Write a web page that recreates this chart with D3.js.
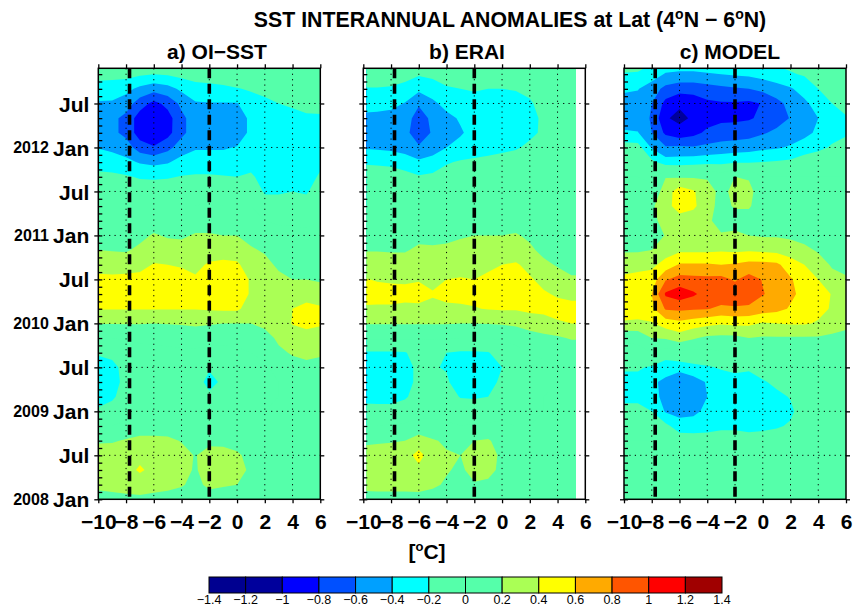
<!DOCTYPE html>
<html>
<head>
<meta charset="utf-8">
<script src="https://cdn.jsdelivr.net/npm/d3@7"></script>
<style>
  body { margin: 0; background: #fff; }
  svg { display: block; font-family: "Liberation Sans", Arial, Helvetica, sans-serif; }
</style>
</head>
<body>
<svg id="chart" width="858" height="607"></svg>
<script>
// ---- grid: one column per longitude, rows are months since Jan 2008 (latest first)
const gridLons = d3.range(-10, 7, 1);
const gridMonths = d3.range(60, -1, -2);

// ---- axes
const lonTicks = [-10, -8, -6, -4, -2, 0, 2, 4, 6];
const monthTicks = [0, 6, 12, 18, 24, 30, 36, 42, 48, 54];
const monthNames = ["Jan", "Jul"];
const yearLabels = [2008, 2009, 2010, 2011, 2012];
const markLons = [-7.75, -2];

// ---- colour scale
const levels = [-1.4, -1.2, -1, -0.8, -0.6, -0.4, -0.2, 0, 0.2, 0.4, 0.6, 0.8, 1, 1.2, 1.4];
const bandColors = ["#000090", "#00009c", "#0000ff", "#0050ff", "#00a0ff", "#00ffff", "#55ffaa",
                    "#55ffaa", "#aaff55", "#ffff00", "#ffaa00", "#ff5500", "#ff0000", "#a00000"];

const panelTitles = ["a) OI\u2212SST", "b) ERAI", "c) MODEL"];
const dataLonRange = [[-10, 6], [-9.78, 5.33], [-10, 6]];

// ---- SST anomalies [°C], one series per longitude (-10 ... 6), months 60 -> 0
const oiSst = [
  [-0.05,-0.12,-0.3,-0.42,-0.5,-0.5,-0.41,-0.28,-0.15,-0.05,0,0.05,0.12,0.2,0.32,0.45,0.5,0.41,0.21,0,-0.18,-0.28,-0.3,-0.25,-0.18,0,0.18,0.28,0.3,0.26,0.1],
  [-0.05,-0.12,-0.32,-0.42,-0.55,-0.55,-0.45,-0.3,-0.16,-0.05,0,0.05,0.12,0.19,0.32,0.44,0.5,0.41,0.21,0,-0.16,-0.24,-0.25,-0.22,-0.15,0,0.18,0.3,0.32,0.28,0.12],
  [-0.05,-0.13,-0.34,-0.5,-0.66,-0.66,-0.5,-0.35,-0.18,-0.06,0,0.05,0.12,0.18,0.32,0.45,0.5,0.41,0.21,0.02,-0.1,-0.15,-0.16,-0.14,-0.08,0.05,0.22,0.32,0.35,0.3,0.14],
  [-0.06,-0.17,-0.45,-0.7,-0.9,-0.9,-0.7,-0.42,-0.22,-0.08,0,0.06,0.15,0.24,0.35,0.45,0.5,0.41,0.21,0.03,-0.05,-0.08,-0.08,-0.06,0,0.1,0.25,0.36,0.42,0.32,0.15],
  [-0.08,-0.2,-0.52,-0.86,-0.98,-0.98,-0.78,-0.45,-0.23,-0.08,0,0.1,0.22,0.32,0.41,0.5,0.52,0.41,0.2,0.04,-0.05,-0.08,-0.08,-0.05,0,0.1,0.25,0.35,0.36,0.3,0.12],
  [-0.07,-0.18,-0.47,-0.74,-0.88,-0.87,-0.66,-0.42,-0.22,-0.07,0,0.08,0.18,0.28,0.4,0.5,0.52,0.41,0.21,0.04,-0.03,-0.06,-0.06,-0.04,0,0.1,0.24,0.32,0.33,0.27,0.1],
  [-0.05,-0.14,-0.36,-0.55,-0.65,-0.65,-0.5,-0.33,-0.19,-0.06,0,0.08,0.17,0.28,0.38,0.48,0.5,0.41,0.22,0.04,-0.02,-0.05,-0.05,-0.03,0,0.08,0.19,0.26,0.26,0.22,0.1],
  [-0.04,-0.11,-0.28,-0.42,-0.5,-0.5,-0.42,-0.3,-0.18,-0.05,0,0.1,0.22,0.3,0.36,0.42,0.48,0.41,0.24,0.05,-0.02,-0.05,-0.06,-0.03,0,0.05,0.14,0.19,0.18,0.14,0.06],
  [-0.04,-0.1,-0.26,-0.41,-0.5,-0.5,-0.42,-0.3,-0.18,-0.05,0.02,0.1,0.22,0.32,0.42,0.5,0.52,0.42,0.22,0.05,-0.05,-0.16,-0.3,-0.13,-0.02,0.05,0.15,0.28,0.3,0.25,0.1],
  [-0.03,-0.09,-0.24,-0.41,-0.48,-0.48,-0.42,-0.3,-0.19,-0.08,0,0.08,0.2,0.3,0.45,0.52,0.52,0.43,0.2,0.05,-0.05,-0.1,-0.14,-0.08,-0.02,0.05,0.15,0.27,0.29,0.22,0.1],
  [-0.03,-0.08,-0.21,-0.41,-0.5,-0.5,-0.39,-0.28,-0.2,-0.1,0,0.08,0.2,0.3,0.43,0.5,0.5,0.43,0.2,0.05,-0.03,-0.06,-0.08,-0.05,0,0.05,0.12,0.23,0.26,0.2,0.08],
  [-0.02,-0.07,-0.18,-0.28,-0.36,-0.36,-0.32,-0.25,-0.18,-0.08,0,0.06,0.15,0.22,0.3,0.38,0.38,0.32,0.2,0.08,0,-0.05,-0.06,-0.04,0,0.04,0.08,0.14,0.17,0.13,0.05],
  [-0.02,-0.06,-0.15,-0.24,-0.3,-0.3,-0.3,-0.28,-0.25,-0.22,-0.12,0,0.1,0.18,0.25,0.3,0.32,0.3,0.25,0.12,0.03,-0.02,-0.03,-0.02,0,0.02,0.04,0.06,0.06,0.04,0.02],
  [-0.02,-0.05,-0.12,-0.2,-0.26,-0.28,-0.28,-0.28,-0.26,-0.22,-0.12,-0.02,0.05,0.1,0.17,0.24,0.3,0.33,0.3,0.24,0.16,0.05,0,0,0,0.01,0.02,0.03,0.03,0.02,0.01],
  [-0.02,-0.04,-0.1,-0.18,-0.24,-0.26,-0.27,-0.27,-0.25,-0.2,-0.1,-0.02,0.04,0.08,0.14,0.2,0.3,0.4,0.41,0.3,0.22,0.12,0.04,0,0,0,0,0,0,0,0],
  [-0.02,-0.04,-0.09,-0.16,-0.22,-0.26,-0.27,-0.27,-0.26,-0.22,-0.12,-0.03,0.03,0.07,0.13,0.2,0.32,0.46,0.44,0.34,0.24,0.16,0.06,0.01,0,0,0,0,0,0,0],
  [-0.02,-0.04,-0.09,-0.15,-0.22,-0.25,-0.25,-0.23,-0.18,-0.1,-0.05,0,0.03,0.07,0.12,0.18,0.28,0.43,0.42,0.32,0.22,0.15,0.05,0,0,0,0,0,0,0,0]
];

const erai = [
  [-0.04,-0.1,-0.21,-0.32,-0.45,-0.48,-0.42,-0.22,-0.1,-0.04,0,0.05,0.1,0.19,0.3,0.41,0.46,0.38,0.21,0.02,-0.22,-0.28,-0.3,-0.25,-0.14,0,0.16,0.28,0.3,0.26,0.12],
  [-0.04,-0.1,-0.21,-0.32,-0.46,-0.5,-0.43,-0.23,-0.1,-0.04,0,0.05,0.1,0.19,0.3,0.39,0.45,0.38,0.21,0.02,-0.22,-0.3,-0.32,-0.26,-0.14,0,0.17,0.3,0.32,0.27,0.12],
  [-0.04,-0.11,-0.22,-0.34,-0.48,-0.52,-0.45,-0.24,-0.11,-0.04,0,0.05,0.1,0.18,0.3,0.38,0.45,0.38,0.21,0.02,-0.22,-0.3,-0.3,-0.26,-0.14,0.02,0.18,0.32,0.33,0.27,0.12],
  [-0.05,-0.13,-0.26,-0.41,-0.52,-0.55,-0.48,-0.3,-0.13,-0.05,0,0.05,0.1,0.18,0.3,0.38,0.44,0.37,0.21,0.02,-0.21,-0.26,-0.26,-0.22,-0.12,0.03,0.2,0.33,0.34,0.27,0.12],
  [-0.08,-0.18,-0.35,-0.58,-0.68,-0.7,-0.58,-0.36,-0.18,-0.07,0,0.06,0.14,0.24,0.32,0.39,0.45,0.37,0.21,0.02,-0.14,-0.16,-0.16,-0.13,-0.06,0.06,0.3,0.46,0.36,0.28,0.12],
  [-0.06,-0.15,-0.3,-0.44,-0.56,-0.58,-0.5,-0.32,-0.16,-0.06,0,0.06,0.14,0.23,0.3,0.37,0.41,0.37,0.21,0.02,-0.17,-0.19,-0.17,-0.12,-0.05,0.05,0.22,0.3,0.3,0.24,0.1],
  [-0.05,-0.12,-0.22,-0.34,-0.45,-0.47,-0.4,-0.22,-0.11,-0.04,0,0.06,0.15,0.24,0.32,0.4,0.44,0.37,0.21,0.02,-0.2,-0.21,-0.18,-0.12,-0.06,0.03,0.17,0.22,0.22,0.17,0.07],
  [-0.04,-0.1,-0.2,-0.3,-0.38,-0.42,-0.34,-0.18,-0.08,-0.03,0,0.08,0.18,0.26,0.34,0.41,0.44,0.38,0.2,0,-0.22,-0.28,-0.28,-0.21,-0.1,0,0.12,0.2,0.16,0.1,0.04],
  [-0.04,-0.09,-0.18,-0.28,-0.33,-0.34,-0.3,-0.16,-0.07,-0.03,0,0.08,0.2,0.28,0.34,0.4,0.45,0.39,0.2,0,-0.22,-0.3,-0.3,-0.22,-0.1,0.02,0.2,0.28,0.28,0.18,0.08],
  [-0.04,-0.09,-0.2,-0.28,-0.32,-0.32,-0.28,-0.14,-0.06,-0.03,0,0.08,0.2,0.28,0.36,0.44,0.47,0.41,0.21,0,-0.21,-0.27,-0.27,-0.2,-0.1,0.03,0.22,0.28,0.26,0.16,0.07],
  [-0.03,-0.09,-0.2,-0.27,-0.3,-0.3,-0.25,-0.12,-0.05,-0.02,0,0.08,0.2,0.3,0.4,0.47,0.48,0.42,0.22,0.02,-0.12,-0.2,-0.16,-0.1,-0.04,0.02,0.12,0.16,0.15,0.1,0.04],
  [-0.03,-0.08,-0.19,-0.26,-0.29,-0.28,-0.22,-0.1,-0.04,-0.02,0,0.1,0.22,0.3,0.42,0.48,0.48,0.42,0.24,0.05,-0.05,-0.08,-0.07,-0.05,-0.02,0,0.03,0.05,0.05,0.03,0.01],
  [-0.02,-0.07,-0.16,-0.22,-0.25,-0.24,-0.16,-0.08,-0.03,-0.01,0,0.06,0.16,0.24,0.35,0.42,0.46,0.44,0.3,0.1,0,-0.04,-0.04,-0.03,-0.01,0,0.01,0,0,0,0],
  [-0.02,-0.05,-0.1,-0.14,-0.17,-0.17,-0.12,-0.06,-0.02,0,0,0.03,0.08,0.14,0.25,0.35,0.42,0.44,0.34,0.14,0.02,-0.02,-0.02,0,0,0,0,0,0,0,0],
  [-0.02,-0.04,-0.08,-0.12,-0.14,-0.14,-0.1,-0.05,-0.02,0,0,0.02,0.05,0.1,0.18,0.3,0.38,0.46,0.38,0.17,0.04,0,0,0,0,0,0,0,0,0,0],
  [-0.02,-0.04,-0.07,-0.1,-0.12,-0.12,-0.09,-0.04,-0.02,0,0,0.02,0.04,0.08,0.15,0.22,0.35,0.46,0.4,0.22,0.05,0,0,0,0,0,0,0,0,0,0],
  [-0.02,-0.04,-0.07,-0.1,-0.12,-0.12,-0.09,-0.04,-0.02,0,0,0.02,0.04,0.08,0.15,0.22,0.35,0.46,0.4,0.22,0.05,0,0,0,0,0,0,0,0,0,0]
];

const model = [
  [-0.1,-0.21,-0.38,-0.45,-0.48,-0.38,-0.1,-0.05,0,0,0.02,0.05,0.08,0.18,0.3,0.45,0.52,0.48,0.38,0.02,-0.05,-0.18,-0.25,-0.24,-0.15,-0.05,0,0,0,0,0],
  [-0.1,-0.22,-0.39,-0.48,-0.5,-0.39,-0.12,-0.04,0,0,0.02,0.05,0.08,0.18,0.32,0.48,0.56,0.5,0.36,0.05,-0.06,-0.18,-0.25,-0.24,-0.15,-0.05,0,0,0,0,0],
  [-0.15,-0.3,-0.5,-0.6,-0.62,-0.6,-0.42,-0.15,-0.04,0.05,0.17,0.17,0.1,0.2,0.35,0.5,0.6,0.55,0.38,0.2,0,-0.22,-0.36,-0.34,-0.2,-0.05,0,0,0,0,0],
  [-0.22,-0.42,-0.66,-0.86,-0.98,-0.84,-0.58,-0.3,0.19,0.3,0.32,0.24,0.21,0.3,0.48,0.78,1.03,0.82,0.5,0.22,-0.1,-0.3,-0.45,-0.45,-0.42,-0.15,-0.02,0,0,0,0],
  [-0.24,-0.44,-0.72,-0.97,-1.05,-0.93,-0.56,-0.3,0.18,0.5,0.5,0.3,0.25,0.36,0.62,0.88,1.12,0.84,0.55,0.3,-0.05,-0.3,-0.61,-0.55,-0.48,-0.3,-0.08,0,0,0,0],
  [-0.24,-0.44,-0.72,-0.92,-0.97,-0.86,-0.58,-0.28,0.18,0.42,0.44,0.28,0.24,0.36,0.62,0.86,1.03,0.82,0.5,0.22,-0.05,-0.25,-0.5,-0.52,-0.45,-0.3,-0.1,0,0,0,0],
  [-0.22,-0.42,-0.68,-0.84,-0.88,-0.76,-0.55,-0.26,0.18,0.28,0.27,0.24,0.2,0.36,0.62,0.85,0.92,0.81,0.45,0.16,-0.05,-0.22,-0.38,-0.4,-0.35,-0.28,-0.1,0,0,0,0],
  [-0.2,-0.4,-0.65,-0.82,-0.84,-0.72,-0.52,-0.25,0.1,0.15,0.14,0.12,0.22,0.38,0.6,0.86,0.92,0.76,0.42,0.15,-0.02,-0.18,-0.3,-0.32,-0.3,-0.25,-0.08,0,0,0,0],
  [-0.2,-0.38,-0.62,-0.82,-0.84,-0.7,-0.5,-0.22,0.2,0.25,0.22,0.12,0.24,0.36,0.62,0.78,0.9,0.78,0.44,0.15,0,-0.16,-0.26,-0.3,-0.28,-0.24,-0.1,0,0,0,0],
  [-0.18,-0.36,-0.6,-0.84,-0.82,-0.68,-0.48,-0.22,0.18,0.26,0.22,0.12,0.2,0.38,0.66,0.88,0.92,0.76,0.44,0.2,0,-0.17,-0.28,-0.32,-0.3,-0.26,-0.12,0,0,0,0],
  [-0.16,-0.32,-0.55,-0.79,-0.76,-0.62,-0.44,-0.2,0,0.08,0.1,0.12,0.18,0.36,0.66,0.79,0.81,0.7,0.38,0.18,0,-0.1,-0.22,-0.27,-0.27,-0.24,-0.12,0,0,0,0],
  [-0.14,-0.28,-0.48,-0.66,-0.68,-0.56,-0.42,-0.18,0,0.05,0.07,0.1,0.18,0.34,0.64,0.72,0.74,0.66,0.4,0.18,0,-0.08,-0.16,-0.24,-0.25,-0.22,-0.1,0,0,0,0],
  [-0.12,-0.22,-0.42,-0.54,-0.59,-0.5,-0.38,-0.16,0,0.04,0.05,0.08,0.16,0.3,0.5,0.62,0.64,0.58,0.42,0.18,0,-0.06,-0.12,-0.19,-0.23,-0.18,-0.06,0,0,0,0],
  [-0.08,-0.18,-0.32,-0.44,-0.5,-0.46,-0.3,-0.1,0,0.02,0.04,0.06,0.14,0.24,0.4,0.5,0.54,0.5,0.42,0.18,0,-0.04,-0.08,-0.1,-0.12,-0.1,-0.04,0,0,0,0],
  [-0.05,-0.12,-0.2,-0.32,-0.4,-0.36,-0.24,-0.08,0,0,0.02,0.05,0.1,0.18,0.28,0.4,0.48,0.46,0.38,0.18,0,-0.02,-0.04,-0.05,-0.06,-0.04,-0.02,0,0,0,0],
  [-0.04,-0.08,-0.14,-0.2,-0.26,-0.26,-0.18,-0.06,0,0,0.02,0.04,0.07,0.12,0.18,0.26,0.39,0.38,0.3,0.16,0,-0.02,-0.02,-0.02,-0.02,-0.02,-0.01,0,0,0,0],
  [-0.03,-0.06,-0.1,-0.16,-0.21,-0.22,-0.14,-0.05,0,0,0.02,0.03,0.05,0.1,0.15,0.22,0.28,0.3,0.25,0.14,0,-0.01,-0.01,-0.01,-0.01,-0.01,0,0,0,0,0]
];

const panels = [oiSst, erai, model];

// ---- layout
const svg = d3.select("#chart");
const defs = svg.append("defs");
const panelLeft = [98.3, 363.3, 624];
const panelWidth = 222;
const plotTop = 68.3, plotBottom = 499.3;
const monthMax = 58.8;
const ys = d3.scaleLinear().domain([0, monthMax]).range([plotBottom, plotTop]);
const fmt = d3.format("~g");

panels.forEach((series, k) => {
  const xs = d3.scaleLinear().domain([-10, 6]).range([panelLeft[k], panelLeft[k] + panelWidth]);
  const g = svg.append("g");

  // clip to the longitudes covered by the data
  const [lo, hi] = dataLonRange[k];
  defs.append("clipPath").attr("id", "clip" + k)
    .append("rect")
    .attr("x", xs(lo)).attr("y", ys(monthMax))
    .attr("width", xs(hi) - xs(lo)).attr("height", ys(0) - ys(monthMax));
  const field = g.append("g").attr("clip-path", `url(#clip${k})`);

  // filled contours: grid index (u, v) -> lon/month -> pixels
  const nx = gridLons.length, ny = gridMonths.length;
  const values = new Array(nx * ny);
  for (let j = 0; j < ny; j++)
    for (let i = 0; i < nx; i++) values[j * nx + i] = series[i][j];
  const thresholds = levels.slice(1, -1);
  const bands = d3.contours().size([nx, ny]).thresholds(thresholds)(values);
  const lonStep = gridLons[1] - gridLons[0];
  const monStep = gridMonths[0] - gridMonths[1];
  const proj = d3.geoTransform({
    point(u, v) {
      this.stream.point(xs(gridLons[0] + (u - 0.5) * lonStep), ys(gridMonths[0] - (v - 0.5) * monStep));
    }
  });
  const path = d3.geoPath(proj);
  field.append("rect")
    .attr("x", xs(-10.5)).attr("y", ys(61)).attr("width", xs(6.5) - xs(-10.5)).attr("height", ys(-1) - ys(61))
    .attr("fill", bandColors[0]);
  field.selectAll("path.band").data(bands).join("path")
    .attr("class", "band")
    .attr("d", d => path(d))
    .attr("fill", (d, m) => bandColors[m + 1]);

  // dotted grid
  const grid = g.append("g").attr("stroke", "#000").attr("stroke-width", 1).attr("stroke-dasharray", "1.2 4.2");
  grid.selectAll("line.h").data(monthTicks.filter(m => m > 0)).join("line")
    .attr("x1", xs(-10)).attr("x2", xs(6)).attr("y1", d => ys(d)).attr("y2", d => ys(d));
  grid.selectAll("line.v").data(lonTicks.slice(1, -1)).join("line")
    .attr("y1", plotTop).attr("y2", plotBottom).attr("x1", d => xs(d)).attr("x2", d => xs(d));

  // dashed reference longitudes
  g.selectAll("line.mark").data(markLons).join("line")
    .attr("x1", d => xs(d)).attr("x2", d => xs(d)).attr("y1", plotTop).attr("y2", plotBottom)
    .attr("stroke", "#000").attr("stroke-width", 3.6).attr("stroke-dasharray", "10 5.5");

  // frame
  g.append("rect").attr("x", xs(-10)).attr("y", plotTop).attr("width", panelWidth).attr("height", plotBottom - plotTop)
    .attr("fill", "none").attr("stroke", "#000").attr("stroke-width", 1.5);

  // axes
  const bottom = g.append("g").attr("transform", `translate(0,${plotBottom})`)
    .call(d3.axisBottom(xs).tickValues(lonTicks).tickSize(4).tickPadding(11).tickFormat(fmt));
  g.append("g").attr("transform", `translate(0,${plotTop})`)
    .call(d3.axisTop(xs).tickValues(lonTicks).tickSize(4).tickFormat(""));
  g.append("g").attr("transform", `translate(${xs(6)},0)`)
    .call(d3.axisRight(ys).tickValues(monthTicks).tickSize(4).tickFormat(""));
  g.append("g").attr("transform", `translate(${xs(-10)},0)`)
    .call(d3.axisRight(ys).tickValues(d3.range(0, 59, 1)).tickSize(4).tickFormat(""));
  const left = g.append("g").attr("transform", `translate(${xs(-10)},0)`)
    .call(d3.axisLeft(ys).tickValues(monthTicks).tickSize(4).tickPadding(5)
      .tickFormat(m => k === 0 ? monthNames[(m % 12) / 6] : ""));
  g.selectAll(".domain").remove();
  g.selectAll(".tick line").attr("stroke", "#000").attr("stroke-width", 1.3);
  bottom.selectAll("text").attr("font-size", 21).attr("font-weight", "bold").attr("fill", "#000")
    .attr("font-family", "Liberation Sans, Arial, sans-serif");
  left.selectAll("text").attr("font-size", 21).attr("font-weight", "bold").attr("fill", "#000")
    .attr("font-family", "Liberation Sans, Arial, sans-serif").attr("dy", "0.36em");

  if (k === 0) {
    g.selectAll("text.year").data(yearLabels).join("text")
      .attr("x", xs(-10) - 49.5).attr("y", d => ys((d - 2008) * 12)).attr("dy", "0.36em")
      .attr("text-anchor", "end").attr("font-size", 16).attr("font-weight", "bold")
      .text(d => d);
  }

  // panel title
  const titleX = [217, 467, 730][k];
  svg.append("text").attr("x", titleX).attr("y", 59).attr("text-anchor", "middle")
    .attr("font-size", 21).attr("font-weight", "bold").text(panelTitles[k]);
});

// ---- main title with superscript degree marks
const title = svg.append("text").attr("x", 510).attr("y", 27).attr("text-anchor", "middle")
  .attr("font-size", 21.3).attr("font-weight", "bold");
title.append("tspan").text("SST INTERANNUAL ANOMALIES at Lat (4");
title.append("tspan").attr("font-size", 14).attr("dy", -8).text("o");
title.append("tspan").attr("dy", 8).text("N \u2212 6");
title.append("tspan").attr("font-size", 14).attr("dy", -8).text("o");
title.append("tspan").attr("dy", 8).text("N)");

// ---- unit label
const unit = svg.append("text").attr("x", 427).attr("y", 559).attr("text-anchor", "middle")
  .attr("font-size", 21).attr("font-weight", "bold");
unit.append("tspan").text("[");
unit.append("tspan").attr("font-size", 13).attr("dy", -8).text("o");
unit.append("tspan").attr("dy", 8).text("C]");

// ---- colour bar
const cb = d3.scaleLinear().domain([levels[0], levels[levels.length - 1]]).range([209, 722]);
const bar = svg.append("g");
bar.selectAll("rect").data(bandColors).join("rect")
  .attr("x", (d, i) => cb(levels[i])).attr("y", 577)
  .attr("width", (d, i) => cb(levels[i + 1]) - cb(levels[i])).attr("height", 16)
  .attr("fill", d => d).attr("stroke", "#000").attr("stroke-width", 1);
bar.selectAll("text").data(levels).join("text")
  .attr("x", d => cb(d)).attr("y", 604).attr("text-anchor", "middle")
  .attr("font-size", 12.5).text(d => fmt(d));
</script>
</body>
</html>
